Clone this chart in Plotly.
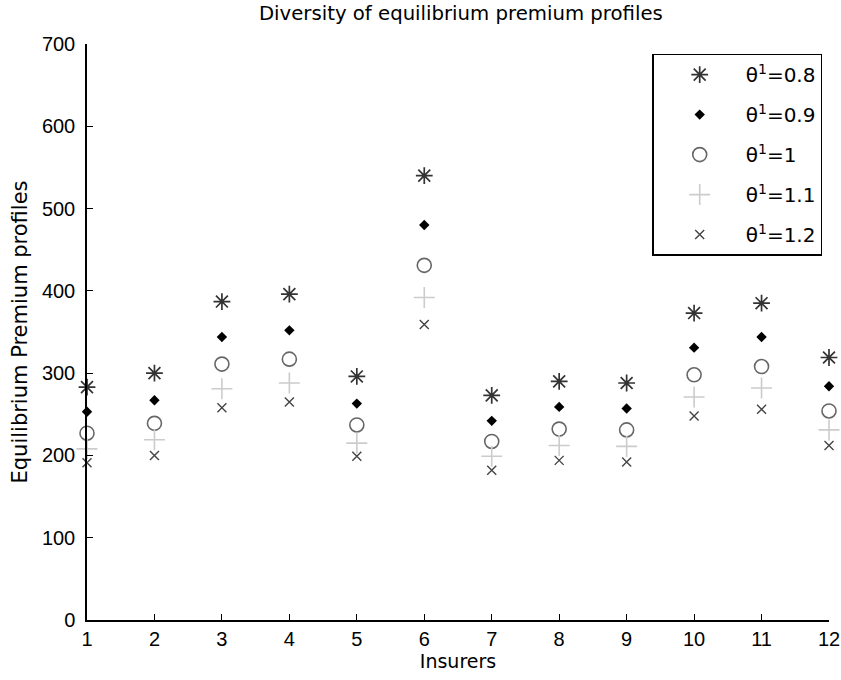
import plotly.graph_objects as go

insurers = list(range(1, 13))
theta_labels = ["θ<sup>1</sup>=0.8", "θ<sup>1</sup>=0.9", "θ<sup>1</sup>=1", "θ<sup>1</sup>=1.1", "θ<sup>1</sup>=1.2"]
p_08 = [283, 300, 387, 396, 296, 540, 273, 290, 288, 373, 385, 319]
p_09 = [253, 267, 344, 352, 263, 480, 242, 259, 257, 331, 344, 284]
p_10 = [227, 239, 311, 317, 237, 431, 217, 232, 231, 298, 308, 254]
p_11 = [208, 219, 281, 288, 215, 392, 199, 212, 211, 271, 282, 231]
p_12 = [191, 200, 258, 265, 199, 359, 182, 194, 192, 248, 256, 212]

series = [p_08, p_09, p_10, p_11, p_12]
styles = [
    dict(symbol="asterisk-open", size=14, color="#333333", line=dict(width=1.7, color="#333333")),
    dict(symbol="diamond", size=8, color="#000000", line=dict(width=0)),
    dict(symbol="circle-open", size=14, color="#666666", line=dict(width=1.6, color="#666666")),
    dict(symbol="cross-thin-open", size=15, color="#cccccc", line=dict(width=1.6, color="#cccccc")),
    dict(symbol="x-thin-open", size=9, color="#444444", line=dict(width=1.4, color="#444444")),
]

FONT = "Liberation Sans, Arial, sans-serif"
WIDE = "DejaVu Sans, Liberation Sans, sans-serif"

fig = go.Figure()
for i, (vals, lab, st) in enumerate(zip(series, theta_labels, styles)):
    fig.add_trace(go.Scatter(
        x=insurers, y=vals, mode="markers", name=lab,
        marker=st, legendgroup=f"g{i}", cliponaxis=False,
    ))

fig.update_layout(
    width=841, height=680,
    margin=dict(l=87, r=12, t=44, b=60, autoexpand=False),
    paper_bgcolor="white", plot_bgcolor="white",
    font=dict(family=FONT, size=18, color="black"),
    title=dict(text="Diversity of equilibrium premium profiles", x=0.548, xanchor="center",
               y=0.981, yanchor="middle", font=dict(family=WIDE, size=19.7, color="black")),
    showlegend=True,
    legend=dict(x=0.762, y=0.983, xanchor="left", yanchor="top",
                bordercolor="black", borderwidth=1.3, bgcolor="white",
                font=dict(family=WIDE, size=20, color="black"),
                tracegroupgap=11, itemsizing="trace", itemwidth=82),
    xaxis=dict(range=[1, 12], tickmode="array", tickvals=insurers,
               showline=True, linecolor="black", linewidth=1.5,
               ticks="inside", ticklen=6, tickcolor="black", tickwidth=1.3,
               showgrid=False, zeroline=False, mirror=False, automargin=False,
               ticklabeloverflow="allow",
               title=dict(text="Insurers", standoff=4, font=dict(family=WIDE, size=19)),
               tickfont=dict(size=20)),
    yaxis=dict(range=[0, 700], dtick=100,
               showline=True, linecolor="black", linewidth=1.5,
               ticks="inside", ticklen=6, tickcolor="black", tickwidth=1.3,
               showgrid=False, zeroline=False, mirror=False, automargin=False,
               ticklabelstandoff=6,
               title=dict(text="Equilibrium Premium profiles", standoff=9,
                          font=dict(family=WIDE, size=21)),
               tickfont=dict(size=20)),
)

fig.write_html("out.html", config={"displayModeBar": False},
               post_script="document.body.style.margin='0';")
